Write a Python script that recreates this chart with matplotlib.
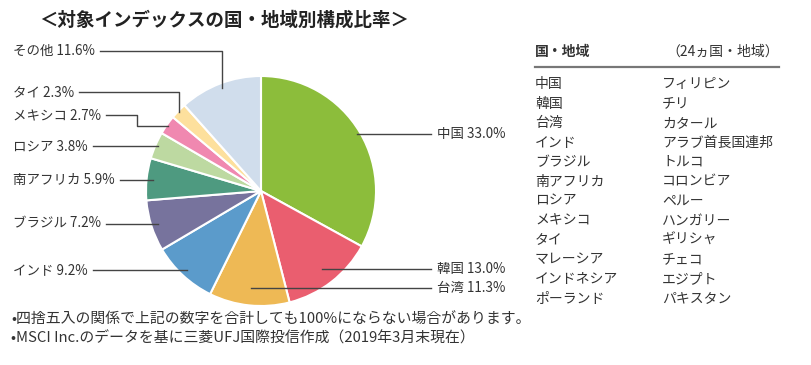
import numpy as np
import matplotlib
matplotlib.use("Agg")
import matplotlib.pyplot as plt

plt.rcParams['font.family'] = ['Noto Sans CJK JP', 'DejaVu Sans']

# --- Dane ---
countries = ["中国", "韓国", "台湾", "インド", "ブラジル", "南アフリカ",
             "ロシア", "メキシコ", "タイ", "その他"]
shares = [33.0, 13.0, 11.3, 9.2, 7.2, 5.9, 3.8, 2.7, 2.3, 11.6]
colors = ["#8cbd3b", "#ea5e6f", "#eeb955", "#5b9bcb", "#77739d",
          "#4e9a80", "#bdd9a1", "#f088b0", "#fde09d", "#d0ddec"]

table_left = ["中国", "韓国", "台湾", "インド", "ブラジル", "南アフリカ",
              "ロシア", "メキシコ", "タイ", "マレーシア", "インドネシア", "ポーランド"]
table_right = ["フィリピン", "チリ", "カタール", "アラブ首長国連邦", "トルコ", "コロンビア",
               "ペルー", "ハンガリー", "ギリシャ", "チェコ", "エジプト", "パキスタン"]

title = "＜対象インデックスの国・地域別構成比率＞"
notes = ["•四捨五入の関係で上記の数字を合計しても100%にならない場合があります。",
         "•MSCI Inc.のデータを基に三菱UFJ国際投信作成（2019年3月末現在）"]

W, H = 812, 365
TXT = "#333333"
LINE = "#444444"


def Y(y):
    # piksele od góry -> współrzędne osi
    return H - y


fig = plt.figure(figsize=(W / 100, H / 100), dpi=100)
ax = fig.add_axes([0, 0, 1, 1])

# --- Wykres kołowy ---
cx, cy, R = 261, 191, 115
wedges, _ = ax.pie(shares, colors=colors, startangle=90, counterclock=False,
                   center=(cx, Y(cy)), radius=R, frame=True,
                   wedgeprops=dict(edgecolor="white", linewidth=1.5))
ax.set_xlim(0, W)
ax.set_ylim(0, H)
ax.set_aspect("equal")
ax.axis("off")

# punkty zaczepienia linii (ułamek promienia) i pozycje etykiet
anchor_r = [0.97, 0.86, 0.85, 0.94, 0.94, 0.945, 0.98, 0.99, 0.99, 0.96]
label_pos = {
    "中国": ("right", None),
    "韓国": ("right", None),
    "台湾": ("right", None),
    "インド": ("left", None),
    "ブラジル": ("left", None),
    "南アフリカ": ("left", None),
    "ロシア": ("left", None),
    "メキシコ": ("left", 115),
    "タイ": ("left", 92),
    "その他": ("left", 51),
}

fig.canvas.draw()
renderer = fig.canvas.get_renderer()
inv = ax.transData.inverted()

for w, name, val, rf in zip(wedges, countries, shares, anchor_r):
    ang = np.radians((w.theta1 + w.theta2) / 2)
    axp = cx + rf * R * np.cos(ang)
    ayp = Y(cy) + rf * R * np.sin(ang)
    side, ty = label_pos[name]
    label = f"{name} {val:.1f}%"
    if side == "right":
        ax.plot([axp, 431], [ayp, ayp], color=LINE, lw=1.0)
        ax.text(437, ayp, label, fontsize=9.7, color=TXT, va="center", ha="left")
        continue
    ty_ax = ayp if ty is None else Y(ty)
    t = ax.text(13, ty_ax, label, fontsize=9.7, color=TXT, va="center", ha="left")
    bb = t.get_window_extent(renderer)
    x0 = inv.transform((bb.x1, 0))[0] + 5
    if ty is None:
        ax.plot([x0, axp], [ayp, ayp], color=LINE, lw=1.0)
    elif name == "メキシコ":
        ax.plot([x0, 137, 137, axp], [ty_ax, ty_ax, ayp, ayp], color=LINE, lw=1.0)
    else:
        ax.plot([x0, axp, axp], [ty_ax, ty_ax, ayp], color=LINE, lw=1.0)

# --- Tytuł ---
ax.text(39, Y(20), title, fontsize=13.3, fontweight="bold", color="#222222",
        va="center", ha="left")

# --- Tabela krajów ---
ax.text(535, Y(52), "国・地域", fontsize=10, fontweight="bold", color=TXT,
        va="center", ha="left")
ax.text(779, Y(52), "（24ヵ国・地域）", fontsize=10, color=TXT, va="center", ha="right")
ax.plot([535, 779], [Y(67), Y(67)], color="#777777", lw=1.6)
for i, (a, b) in enumerate(zip(table_left, table_right)):
    yy = Y(84 + i * 19.5)
    ax.text(535, yy, a, fontsize=10, color=TXT, va="center", ha="left")
    ax.text(662, yy, b, fontsize=10, color=TXT, va="center", ha="left")

# --- Przypisy ---
for i, n in enumerate(notes):
    ax.text(11, Y(320 + i * 18), n, fontsize=10.7, color=TXT, va="center", ha="left")

fig.savefig("out.png", dpi=100)
